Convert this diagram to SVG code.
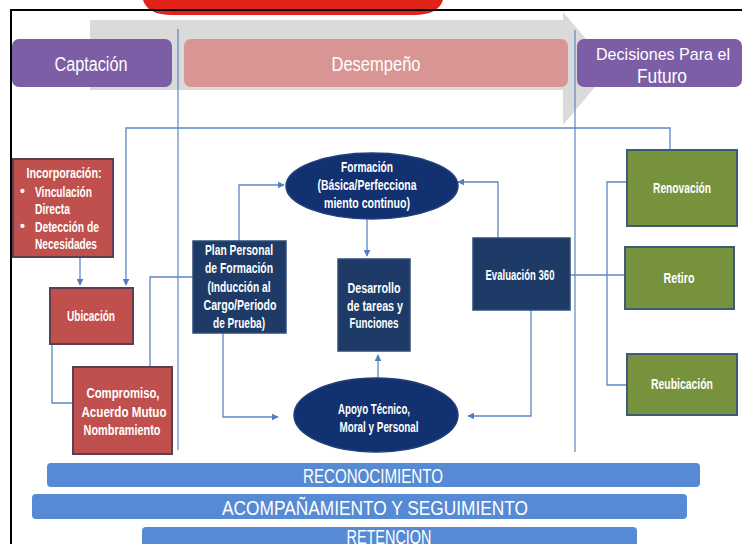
<svg xmlns="http://www.w3.org/2000/svg" width="742" height="544" viewBox="0 0 742 544">
<defs>
<marker id="ah" viewBox="0 0 10 10" refX="9" refY="5" markerWidth="7" markerHeight="7" markerUnits="userSpaceOnUse" orient="auto">
<path d="M0,0 L10,5 L0,10 z" fill="#4f7fbf"/>
</marker>
<style>
text{font-family:"Liberation Sans",Arial,sans-serif;fill:#fff;text-anchor:middle}
.hd{font-size:20px}
.sm{font-size:14px;font-weight:bold}
.st{text-anchor:start}
.bar{font-size:21px}
.red{fill:#c0504d;stroke:#5b3f55;stroke-width:2}
.grn{fill:#76923c;stroke:#3f5a78;stroke-width:2}
.nv{fill:#1d3b66;stroke:#2f4c78;stroke-width:1.5}
.ell{fill:#123170;stroke:#22407a;stroke-width:1.5}
.cn{fill:none;stroke:#5b88c4;stroke-width:1.3}
.ar{marker-end:url(#ah)}
.blue{fill:#568ad4}
.div{stroke:#5b88c4;stroke-width:1.2}
</style>
</defs>
<rect width="742" height="544" fill="#fff"/>
<g id="background">
<path d="M143,0 L443,0 C440,10 430,15 414,15 L172,15 C156,15 146,10 143,0 Z" fill="#e2231a"/>
<polygon points="90,20 563,20 563,12 611,68 563,125 563,90 90,90" fill="#dadada"/>
<line x1="10" y1="10" x2="742" y2="10" stroke="#000" stroke-width="2"/>
<line x1="11" y1="10" x2="11" y2="544" stroke="#000" stroke-width="2"/>
</g>
<g id="phase-captacion">
<rect x="12" y="39" width="160" height="48" rx="7" fill="#7b5ea6"/>
<text class="hd" x="91" y="71" textLength="73" lengthAdjust="spacingAndGlyphs">Captación</text>
</g>
<g id="phase-desempeno">
<rect x="184" y="39" width="384" height="48" rx="7" fill="#d99594"/>
<text class="hd" x="376" y="71" textLength="89" lengthAdjust="spacingAndGlyphs">Desempeño</text>
</g>
<g id="phase-decisiones">
<rect x="577" y="39" width="165" height="48" rx="7" fill="#7b5ea6"/>
<text class="hd" style="font-size:17px" x="663" y="60" textLength="134" lengthAdjust="spacingAndGlyphs">Decisiones Para el</text>
<text class="hd" x="662" y="83" textLength="50" lengthAdjust="spacingAndGlyphs">Futuro</text>
</g>
<g id="connectors">
<line class="div" x1="178" y1="29" x2="178" y2="450"/>
<line class="div" x1="575" y1="30" x2="575" y2="452"/>
<polyline class="cn ar" points="670,150 670,128 126,128 126,285"/>
<polyline class="cn ar" points="80,257 80,285"/>
<polyline class="cn" points="52,344 52,403 73,403"/>
<polyline class="cn" points="150,367 150,277 193,277"/>
<polyline class="cn ar" points="239,241 239,185 284,185"/>
<polyline class="cn ar" points="223,333 223,417 278,417"/>
<polyline class="cn ar" points="367,219 367,256"/>
<polyline class="cn ar" points="378,379 378,355"/>
<polyline class="cn ar" points="498,238 498,182 458,182"/>
<polyline class="cn ar" points="531,310 531,416 468,416"/>
<polyline class="cn" points="570,275 624,275"/>
<polyline class="cn" points="627,182 607,182 607,385 627,385"/>
</g>
<g id="incorporacion">
<rect class="red" x="13" y="159" width="100" height="98"/>
<text class="sm" x="64" y="178" textLength="75" lengthAdjust="spacingAndGlyphs">Incorporación:</text>
<text class="sm st" x="20" y="196">•</text>
<text class="sm st" x="35" y="197" textLength="57" lengthAdjust="spacingAndGlyphs">Vinculación</text>
<text class="sm st" x="35" y="214" textLength="35" lengthAdjust="spacingAndGlyphs">Directa</text>
<text class="sm st" x="20" y="231">•</text>
<text class="sm st" x="35" y="232" textLength="64" lengthAdjust="spacingAndGlyphs">Detección de</text>
<text class="sm st" x="35" y="249" textLength="62" lengthAdjust="spacingAndGlyphs">Necesidades</text>
</g>
<g id="ubicacion">
<rect class="red" x="50" y="288" width="83" height="56"/>
<text class="sm" x="91" y="321" textLength="48" lengthAdjust="spacingAndGlyphs">Ubicación</text>
</g>
<g id="compromiso">
<rect class="red" x="73" y="367" width="99" height="87"/>
<text class="sm" x="123" y="398" textLength="73" lengthAdjust="spacingAndGlyphs">Compromiso,</text>
<text class="sm" x="124" y="417" textLength="85" lengthAdjust="spacingAndGlyphs">Acuerdo Mutuo</text>
<text class="sm" x="122" y="435" textLength="77" lengthAdjust="spacingAndGlyphs">Nombramiento</text>
</g>
<g id="plan-personal">
<rect class="nv" x="193" y="241" width="93" height="92"/>
<text class="sm" x="239" y="255" textLength="68" lengthAdjust="spacingAndGlyphs">Plan Personal</text>
<text class="sm" x="239" y="273" textLength="68" lengthAdjust="spacingAndGlyphs">de Formación</text>
<text class="sm" x="239" y="292" textLength="63" lengthAdjust="spacingAndGlyphs">(Inducción al</text>
<text class="sm" x="240" y="310" textLength="73" lengthAdjust="spacingAndGlyphs">Cargo/Periodo</text>
<text class="sm" x="239" y="328" textLength="52" lengthAdjust="spacingAndGlyphs">de Prueba)</text>
</g>
<g id="formacion">
<ellipse class="ell" cx="372" cy="186" rx="86" ry="33"/>
<text class="sm" x="367" y="172" textLength="52" lengthAdjust="spacingAndGlyphs">Formación</text>
<text class="sm" x="367" y="190" textLength="99" lengthAdjust="spacingAndGlyphs">(Básica/Perfecciona</text>
<text class="sm" x="367" y="208" textLength="86" lengthAdjust="spacingAndGlyphs">miento continuo)</text>
</g>
<g id="desarrollo">
<rect class="nv" x="338" y="259" width="72" height="92"/>
<text class="sm" x="374" y="293" textLength="53" lengthAdjust="spacingAndGlyphs">Desarrollo</text>
<text class="sm" x="375" y="311" textLength="56" lengthAdjust="spacingAndGlyphs">de tareas y</text>
<text class="sm" x="374" y="328" textLength="49" lengthAdjust="spacingAndGlyphs">Funciones</text>
</g>
<g id="apoyo">
<ellipse class="ell" cx="376" cy="415" rx="82" ry="37"/>
<text class="sm" x="374" y="414" textLength="72" lengthAdjust="spacingAndGlyphs">Apoyo Técnico,</text>
<text class="sm" x="379" y="432" textLength="79" lengthAdjust="spacingAndGlyphs">Moral y Personal</text>
</g>
<g id="evaluacion">
<rect class="nv" x="473" y="238" width="97" height="72"/>
<text class="sm" x="520" y="280" textLength="69" lengthAdjust="spacingAndGlyphs">Evaluación 360</text>
</g>
<g id="renovacion">
<rect class="grn" x="627" y="150" width="110" height="76"/>
<text class="sm" x="682" y="193" textLength="58" lengthAdjust="spacingAndGlyphs">Renovación</text>
</g>
<g id="retiro">
<rect class="grn" x="625" y="247" width="109" height="62"/>
<text class="sm" x="679" y="283" textLength="31" lengthAdjust="spacingAndGlyphs">Retiro</text>
</g>
<g id="reubicacion">
<rect class="grn" x="627" y="354" width="110" height="61"/>
<text class="sm" x="682" y="389" textLength="62" lengthAdjust="spacingAndGlyphs">Reubicación</text>
</g>
<g id="reconocimiento">
<rect class="blue" x="47" y="463" width="653" height="24" rx="4"/>
<text class="bar" x="373" y="483" textLength="140" lengthAdjust="spacingAndGlyphs">RECONOCIMIENTO</text>
</g>
<g id="acompanamiento">
<rect class="blue" x="32" y="494" width="655" height="25" rx="4"/>
<text class="bar" x="375" y="515" textLength="306" lengthAdjust="spacingAndGlyphs">ACOMPAÑAMIENTO Y SEGUIMIENTO</text>
</g>
<g id="retencion">
<rect class="blue" x="142" y="527" width="495" height="24" rx="4"/>
<text class="bar" x="389" y="544" textLength="85" lengthAdjust="spacingAndGlyphs">RETENCION</text>
</g>
</svg>
